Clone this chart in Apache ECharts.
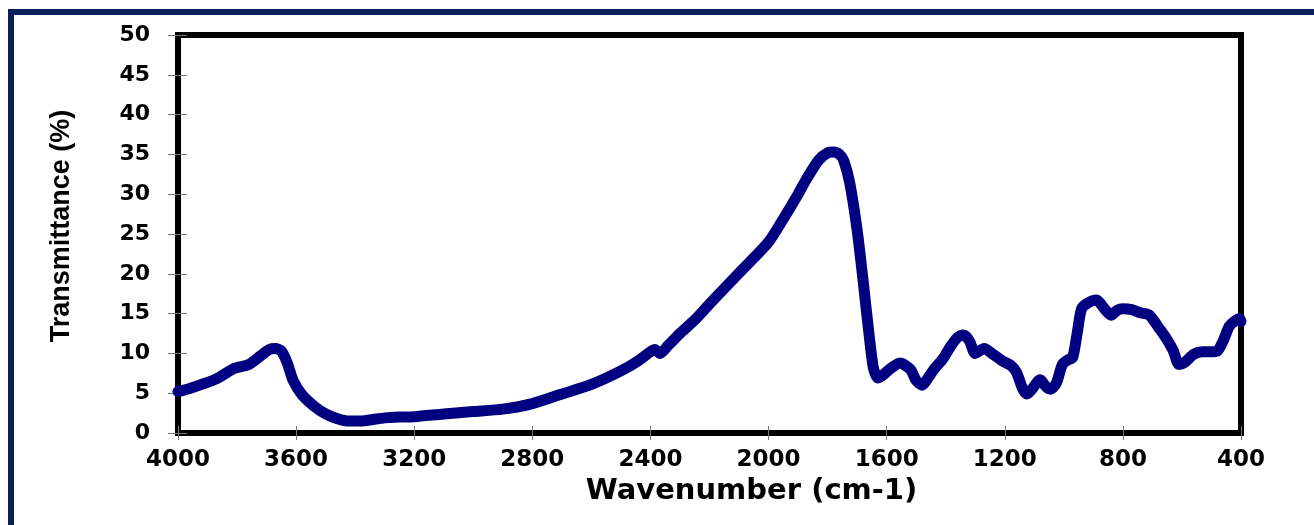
<!DOCTYPE html>
<html>
<head>
<meta charset="utf-8">
<script src="https://cdn.jsdelivr.net/npm/echarts@6/dist/echarts.min.js"></script>
<style>
html,body{margin:0;padding:0;background:#fff;}
#wrap{position:relative;width:1314px;height:525px;overflow:hidden;}
#chart{position:absolute;left:0;top:0;width:1314px;height:525px;}
#frame{position:absolute;left:8px;top:9px;width:1320px;height:540px;border-top:6px solid #0a1f5c;border-left:6px solid #0a1f5c;pointer-events:none;}
</style>
</head>
<body>
<div id="wrap"><div id="chart"></div><div id="frame"></div></div>
<script>
const wavenumbers = [4000,3960,3920,3870,3810,3760,3720,3690,3670,3650,3630,3610,3580,3540,3500,3460,3420,3380,3340,3300,3250,3200,3100,3000,2900,2800,2700,2600,2500,2440,2400,2385,2368,2340,2300,2250,2200,2100,2000,1950,1900,1870,1830,1800,1780,1760,1745,1725,1700,1680,1660,1645,1630,1615,1590,1555,1520,1500,1480,1460,1440,1410,1385,1360,1340,1320,1300,1270,1240,1210,1180,1160,1140,1125,1110,1080,1060,1045,1025,1005,985,970,955,940,920,890,860,840,820,800,770,740,710,680,655,630,610,590,560,530,500,480,460,440,420,405,400];
const transmittance = [5.2,5.6,6.1,6.8,8.1,8.6,9.7,10.5,10.6,10.3,8.8,6.6,4.8,3.4,2.4,1.8,1.5,1.5,1.7,1.9,2.0,2.05,2.4,2.7,3.0,3.7,4.9,6.1,7.8,9.1,10.2,10.5,10.0,11.0,12.5,14.2,16.2,20.1,24.0,26.9,30.0,32.0,34.3,35.2,35.3,35.0,34.2,31.4,25.5,19.2,12.5,8.2,6.9,7.2,8.0,8.8,8.0,6.6,6.0,6.9,8.0,9.3,10.8,12.0,12.3,11.6,10.0,10.6,9.9,9.1,8.5,7.6,5.6,4.9,5.4,6.7,5.8,5.5,6.3,8.6,9.2,9.5,12.5,15.6,16.3,16.7,15.5,14.8,15.4,15.6,15.5,15.1,14.8,13.3,12.0,10.4,8.6,8.9,9.9,10.2,10.2,10.3,11.6,13.4,14.1,14.4,14.0];
const xTicks = [4000,3600,3200,2800,2400,2000,1600,1200,800,400];
const yTicks = [0,5,10,15,20,25,30,35,40,45,50];
const xName = 'Wavenumber (cm-1)';
const yName = 'Transmittance (%)';

const chart = echarts.init(document.getElementById('chart'), null, {renderer:'canvas'});
const points = wavenumbers.map((w,i)=>[w, transmittance[i]]);
const labelFont = 'DejaVu Sans';
chart.setOption({
  animation:false,
  backgroundColor:'#fff',
  grid:{left:178,right:73,top:35,bottom:92,show:true,borderColor:'#000',borderWidth:6,backgroundColor:'transparent'},
  xAxis:[{
    type:'value', inverse:true, min:400, max:4000, interval:400,
    name:xName, nameLocation:'middle', nameGap:30,
    nameTextStyle:{fontFamily:labelFont,fontWeight:'bold',fontSize:29,color:'#000',padding:[0,0,0,84]},
    axisLine:{show:true,onZero:false,lineStyle:{color:'#000',width:6}},
    axisTick:{show:true,length:7,lineStyle:{color:'#777',width:1}},
    axisLabel:{margin:16,fontFamily:labelFont,fontWeight:'bold',fontSize:23,color:'#000',
      formatter:v=>xTicks.indexOf(v)>=0?String(v):''},
    splitLine:{show:false}
  },{
    type:'value', inverse:true, min:400, max:4000, interval:400, position:'bottom',
    axisLine:{show:false}, axisLabel:{show:false}, splitLine:{show:false},
    axisTick:{show:true,inside:true,length:7,lineStyle:{color:'#777',width:1}}
  }],
  yAxis:[{
    type:'value', min:0, max:50, interval:5,
    name:yName, nameLocation:'middle', nameGap:103, nameRotate:90,
    nameTextStyle:{fontFamily:'Liberation Sans, Arial',fontWeight:'bold',fontSize:27,color:'#000',padding:[0,0,0,16]},
    axisLine:{show:true,onZero:false,lineStyle:{color:'#000',width:6}},
    axisTick:{show:true,length:10,lineStyle:{color:'#777',width:1}},
    axisLabel:{margin:28,fontFamily:labelFont,fontWeight:'bold',fontSize:22,color:'#000',
      formatter:v=>yTicks.indexOf(v)>=0?String(v):''},
    splitLine:{show:false}
  },{
    type:'value', min:0, max:50, interval:5, position:'left',
    axisLine:{show:false}, axisLabel:{show:false}, splitLine:{show:false},
    axisTick:{show:true,inside:true,length:9,lineStyle:{color:'#777',width:1}}
  }],
  series:[{
    type:'line', data:points, xAxisIndex:0, yAxisIndex:0,
    showSymbol:false, symbol:'none', smooth:0.25,
    lineStyle:{color:'#000080',width:11,cap:'round',join:'round'},
    z:3
  }]
});
</script>
</body>
</html>
